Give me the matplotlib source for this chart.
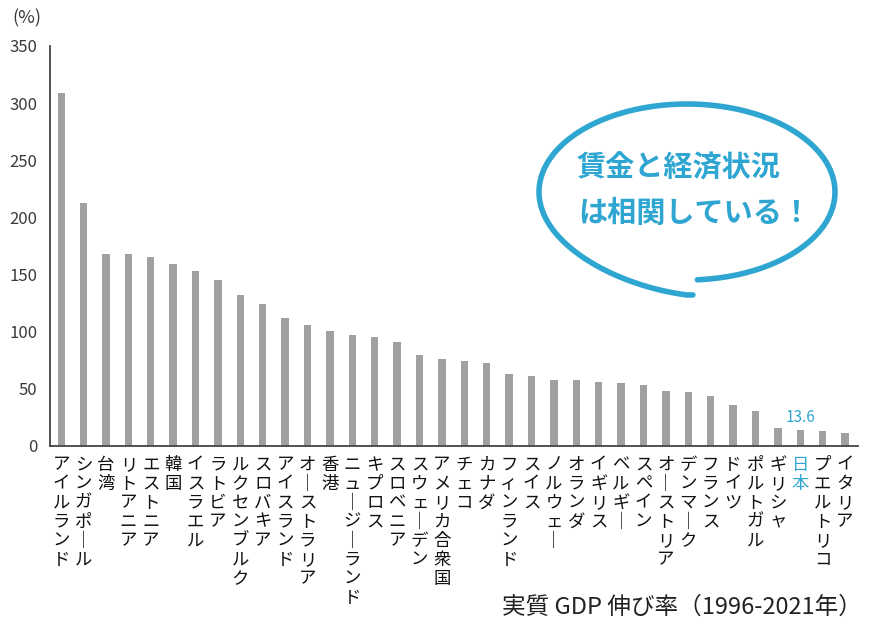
import numpy as np
import matplotlib
matplotlib.use("Agg")
import matplotlib.pyplot as plt

plt.rcParams['font.family'] = ['Noto Sans CJK JP', 'DejaVu Sans']

countries = [
    "アイルランド", "シンガポール", "台湾", "リトアニア", "エストニア", "韓国",
    "イスラエル", "ラトビア", "ルクセンブルク", "スロバキア", "アイスランド",
    "オーストラリア", "香港", "ニュージーランド", "キプロス", "スロベニア",
    "スウェーデン", "アメリカ合衆国", "チェコ", "カナダ", "フィンランド", "スイス",
    "ノルウェー", "オランダ", "イギリス", "ベルギー", "スペイン", "オーストリア",
    "デンマーク", "フランス", "ドイツ", "ポルトガル", "ギリシャ", "日本",
    "プエルトリコ", "イタリア",
]
growth = [
    309, 213, 168, 168, 165, 159, 153, 145, 132, 124, 112, 106, 101, 97, 95,
    91, 80, 76, 74, 73, 63, 61, 58, 58, 56, 55, 53, 48, 47, 44, 36, 31,
    16, 13.6, 13.5, 11,
]
yticks = [0, 50, 100, 150, 200, 250, 300, 350]
highlight = "日本"

BAR = "#a0a0a0"
BLUE = "#2ea6d1"
TXT = "#3a3a3a"


def vertical(s):
    # stack characters top to bottom, long vowel mark turned upright
    return "\n".join(s.replace("ー", "｜"))


fig = plt.figure(figsize=(8.7, 6.27), dpi=100)
ax = fig.add_axes([50 / 870, 181 / 627, 808 / 870, 400 / 627])

x = np.arange(len(countries))
ax.bar(x, growth, width=0.33, color=BAR, zorder=2)

ax.set_xlim(-0.5, len(countries) - 0.42)
ax.set_ylim(0, 350)
ax.set_yticks(yticks)
ax.set_yticklabels([str(v) for v in yticks], fontsize=12, color=TXT)
ax.set_xticks(x)
ax.set_xticklabels([vertical(c) for c in countries], fontsize=12.5,
                   color="#111111", va="top", linespacing=1.07)
ax.tick_params(axis="both", length=0)
ax.tick_params(axis="y", pad=9)
ax.tick_params(axis="x", pad=7)

for side in ("top", "right"):
    ax.spines[side].set_visible(False)
for side in ("left", "bottom"):
    ax.spines[side].set_color("#444444")
    ax.spines[side].set_linewidth(1.3)

ji = countries.index(highlight)
ax.get_xticklabels()[ji].set_color(BLUE)
ax.text(ji, growth[ji] + 4, f"{growth[ji]}", color=BLUE, fontsize=11,
        ha="center", va="bottom")

fig.text(12 / 870, 1 - 18 / 627, "(%)", fontsize=13, color=TXT, va="center")
fig.text(862 / 870, 1 - 607 / 627, "実質 GDP 伸び率（1996-2021年）",
         fontsize=17, color="#222222", ha="right", va="center")

# speech balloon overlay, in pixel coordinates
ov = fig.add_axes([0, 0, 1, 1], zorder=5)
ov.set_xlim(0, 870)
ov.set_ylim(627, 0)
ov.axis("off")
t = np.linspace(np.pi / 2 - 0.07, -1.5 * np.pi - 0.04, 400)
grow = np.clip((t + np.pi) / (-0.5 * np.pi), 0, 1) ** 2
bx = 687 + 148 * np.cos(t)
by = 192 + (88 + 15 * grow) * np.sin(t)
ov.plot(bx, by, color=BLUE, lw=4, solid_capstyle="round")
ov.text(577, 168, "賃金と経済状況", color=BLUE, fontsize=21,
        fontweight="bold", va="center", ha="left")
ov.text(578, 213, "は相関している！", color=BLUE, fontsize=21,
        fontweight="bold", va="center", ha="left")

fig.savefig("out.png", dpi=100)
